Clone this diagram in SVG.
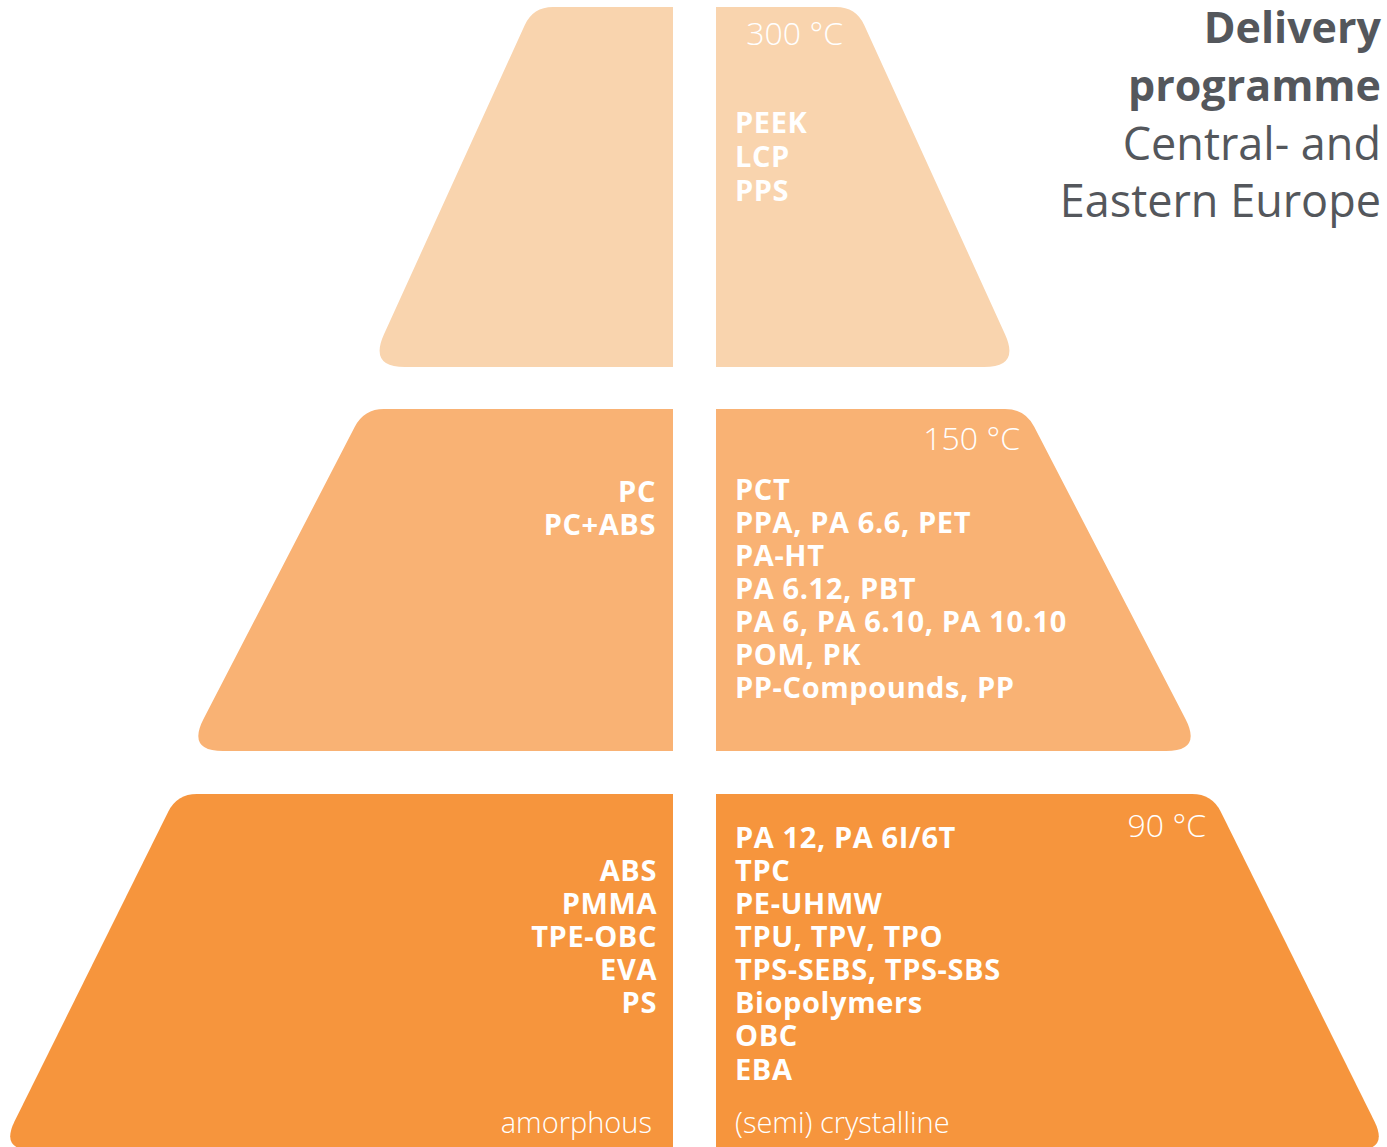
<svg xmlns="http://www.w3.org/2000/svg" width="1387" height="1147" viewBox="0 0 1387 1147">
<style>
.t1{fill:#F9D4AE}
.t2{fill:#F9B274}
.t3{fill:#F6953D}
text{font-family:"Open Sans","Liberation Sans",sans-serif;fill:#FFFFFF}
.b{font-weight:700;font-size:29px;letter-spacing:0.6px}
.temp{font-weight:300;font-size:32px}
.lbl{font-weight:300;font-size:29px}
.title{fill:#54575C}
.r{text-anchor:end}
</style>
<rect width="1387" height="1147" fill="#FFFFFF"/>
<g id="connectors"/>
<g id="tier1-left">
<path class="t1" d="M553,7 H673 V367 H405 Q369,367 384,334.2 L524.7,25.2 Q533,7 553,7 Z"/>
</g>
<g id="tier1-right">
<path class="t1" d="M836,7 H716 V367 H984 Q1020,367 1005,334.2 L864.3,25.2 Q856,7 836,7 Z"/>
<text class="temp r" x="843" y="45">300 °C</text>
<text class="b" x="735" y="133">PEEK<tspan x="735" dy="34">LCP</tspan><tspan x="735" dy="34">PPS</tspan></text>
</g>
<g id="tier2-left">
<path class="t2" d="M384,409 H673 V751 H223 Q187,751 203.5,719 L354.8,426.8 Q364,409 384,409 Z"/>
<text class="b r" x="656" y="502">PC<tspan x="656" dy="33">PC+ABS</tspan></text>
</g>
<g id="tier2-right">
<path class="t2" d="M1005,409 H716 V751 H1166 Q1202,751 1185.5,719 L1034.2,426.8 Q1025,409 1005,409 Z"/>
<text class="temp r" x="1020" y="450">150 °C</text>
<text class="b" x="735" y="500">PCT<tspan x="735" dy="33">PPA, PA 6.6, PET</tspan><tspan x="735" dy="33">PA-HT</tspan><tspan x="735" dy="33">PA 6.12, PBT</tspan><tspan x="735" dy="33">PA 6, PA 6.10, PA 10.10</tspan><tspan x="735" dy="33">POM, PK</tspan><tspan x="735" dy="33">PP-Compounds, PP</tspan></text>
</g>
<g id="tier3-left">
<path class="t3" d="M197,794 H673 V1150 H32 Q0.4,1150 14.6,1121.3 L168.1,811.9 Q177,794 197,794 Z"/>
<text class="b r" x="657" y="881">ABS<tspan x="657" dy="33">PMMA</tspan><tspan x="657" dy="33">TPE-OBC</tspan><tspan x="657" dy="33">EVA</tspan><tspan x="657" dy="33">PS</tspan></text>
<text class="lbl r" x="652" y="1133">amorphous</text>
</g>
<g id="tier3-right">
<path class="t3" d="M1192,794 H716 V1150 H1357 Q1388.6,1150 1374.4,1121.3 L1220.9,811.9 Q1212,794 1192,794 Z"/>
<text class="temp r" x="1206" y="837">90 °C</text>
<text class="b" x="735" y="848">PA 12, PA 6I/6T<tspan x="735" dy="33">TPC</tspan><tspan x="735" dy="33">PE-UHMW</tspan><tspan x="735" dy="33">TPU, TPV, TPO</tspan><tspan x="735" dy="33">TPS-SEBS, TPS-SBS</tspan><tspan x="735" dy="33">Biopolymers</tspan><tspan x="735" dy="33">OBC</tspan><tspan x="735" dy="34">EBA</tspan></text>
<text class="lbl" x="735" y="1133">(semi) crystalline</text>
</g>
<g id="title">
<text class="title r" x="1381" y="43" font-weight="700" font-size="43">Delivery<tspan x="1381" dy="58">programme</tspan></text>
<text class="title r" x="1381" y="160" font-weight="400" font-size="45">Central- and<tspan x="1381" dy="57">Eastern Europe</tspan></text>
</g>
</svg>
